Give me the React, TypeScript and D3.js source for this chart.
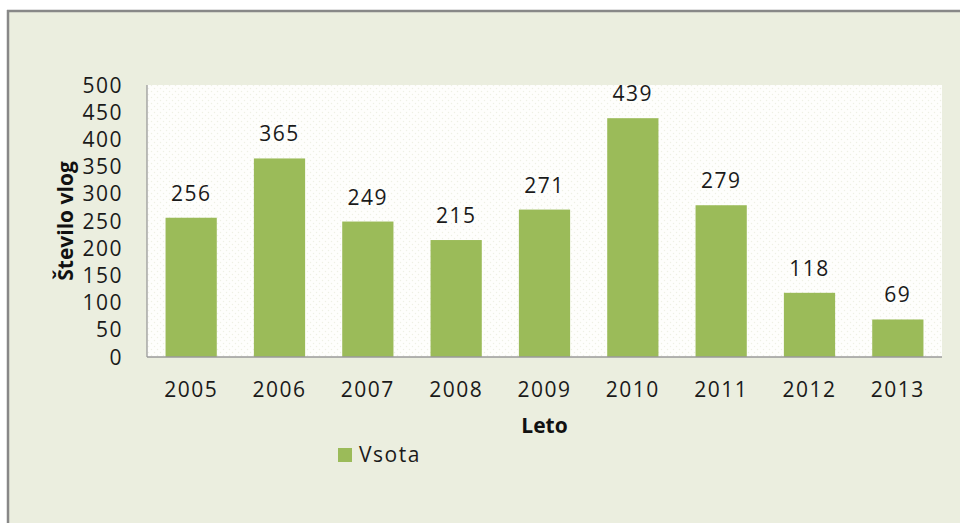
import React from "react";
import * as d3 from "d3";

const categories = ["2005", "2006", "2007", "2008", "2009", "2010", "2011", "2012", "2013"];
const values = [256, 365, 249, 215, 271, 439, 279, 118, 69];
const yTicks = [0, 50, 100, 150, 200, 250, 300, 350, 400, 450, 500];
const seriesName = "Vsota";
const xTitle = "Leto";
const yTitle = "Število vlog";

const W = 960;
const H = 523;
const plot = { left: 147, right: 942, top: 85, bottom: 357 };
const FONT = "'Open Sans', 'Noto Sans', sans-serif";
const BAR = "#9BBB59";

export default function App() {
  const x = d3
    .scaleBand<string>()
    .domain(categories)
    .range([plot.left, plot.right])
    .paddingInner(0.42)
    .paddingOuter(0.21);
  const y = d3.scaleLinear().domain([0, 500]).range([plot.bottom, plot.top]);
  const cy = (plot.top + plot.bottom) / 2;
  const cx = (plot.left + plot.right) / 2;

  return (
    <svg
      width={W}
      height={H}
      style={{ position: "absolute", left: 0, top: 0, display: "block" }}
    >
      <defs>
        <pattern id="dots" width="6" height="6" patternUnits="userSpaceOnUse">
          <rect width="6" height="6" fill="#FEFEFC" />
          <circle cx="1.5" cy="1.5" r="0.7" fill="#EEF0E4" />
          <circle cx="4.5" cy="4.5" r="0.7" fill="#EEF0E4" />
        </pattern>
      </defs>
      <rect x={0} y={0} width={W} height={H} fill="#FFFFFF" />
      <rect x={9} y={12} width={W - 9} height={H - 12} fill="#EBEEDF" />
      <line x1={7} x2={W} y1={11} y2={11} stroke="#888888" strokeWidth={2.5} />
      <line x1={8} x2={8} y1={10} y2={H} stroke="#888888" strokeWidth={2.5} />

      <rect
        x={plot.left}
        y={plot.top}
        width={plot.right - plot.left}
        height={plot.bottom - plot.top}
        fill="url(#dots)"
      />

      {categories.map((c, i) => (
        <rect
          key={c}
          x={x(c)}
          y={y(values[i])}
          width={x.bandwidth()}
          height={y(0) - y(values[i])}
          fill={BAR}
        />
      ))}

      <line
        x1={plot.left}
        x2={plot.left}
        y1={plot.top}
        y2={plot.bottom}
        stroke="#9A9A9A"
        strokeWidth={1.3}
      />
      <line
        x1={plot.left}
        x2={plot.right}
        y1={plot.bottom}
        y2={plot.bottom}
        stroke="#9A9A9A"
        strokeWidth={1.3}
      />

      <g fontFamily={FONT} fontSize={21} fill="#1A1A1A" letterSpacing="1.5px">
        {categories.map((c, i) => (
          <text
            key={"v" + c}
            x={(x(c) as number) + x.bandwidth() / 2}
            y={y(values[i]) - 17}
            textAnchor="middle"
          >
            {values[i]}
          </text>
        ))}
        {categories.map((c) => (
          <text
            key={"t" + c}
            x={(x(c) as number) + x.bandwidth() / 2}
            y={397}
            textAnchor="middle"
          >
            {c}
          </text>
        ))}
        {yTicks.map((t) => (
          <text key={"y" + t} x={123} y={y(t)} dy="0.36em" textAnchor="end">
            {t}
          </text>
        ))}
        <rect x={338} y={448} width={14} height={14} fill={BAR} />
        <text x={359} y={462}>
          {seriesName}
        </text>
      </g>

      <g fontFamily={FONT} fontSize={21} fontWeight="bold" fill="#111111">
        <text x={cx} y={433} textAnchor="middle">
          {xTitle}
        </text>
        <text
          transform={`translate(73, ${cy}) rotate(-90)`}
          textAnchor="middle"
        >
          {yTitle}
        </text>
      </g>
    </svg>
  );
}
